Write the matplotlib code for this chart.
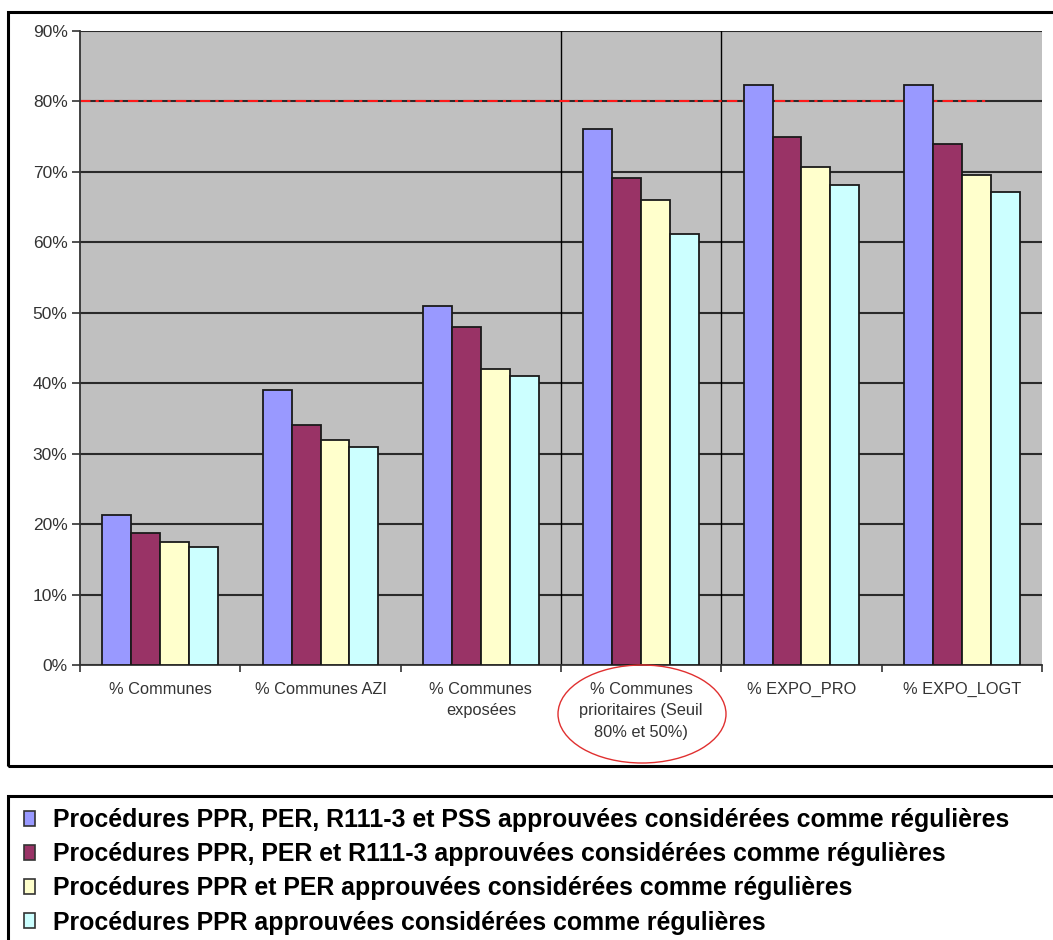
import numpy as np
import matplotlib
matplotlib.use("Agg")
import matplotlib.pyplot as plt
from matplotlib.patches import Rectangle, Ellipse, Patch

plt.rcParams['font.family'] = ['Liberation Sans', 'DejaVu Sans']

# data
categories = ["% Communes", "% Communes AZI", "% Communes\nexposées",
              "% Communes\nprioritaires (Seuil\n80% et 50%)", "% EXPO_PRO", "% EXPO_LOGT"]
ppr_per_r111_pss = [21.3, 39.0, 51.0, 76.1, 82.3, 82.3]
ppr_per_r111 = [18.7, 34.0, 48.0, 69.1, 75.0, 73.9]
ppr_per = [17.4, 32.0, 42.0, 66.0, 70.7, 69.6]
ppr = [16.8, 31.0, 41.0, 61.2, 68.2, 67.1]
series_labels = [
    "Procédures PPR, PER, R111-3 et PSS approuvées considérées comme régulières",
    "Procédures PPR, PER et R111-3 approuvées considérées comme régulières",
    "Procédures PPR et PER approuvées considérées comme régulières",
    "Procédures PPR approuvées considérées comme régulières",
]
colors = ["#9999FF", "#993366", "#FFFFCC", "#CCFFFF"]
threshold = 80

W, H = 1053, 940
fig = plt.figure(figsize=(W / 100, H / 100), dpi=100)
ax = fig.add_axes([80 / W, 1 - 665 / H, (1042 - 80) / W, (665 - 31) / H])
ax.set_facecolor("#C0C0C0")

x = np.arange(len(categories))
bw = 0.18
series = [ppr_per_r111_pss, ppr_per_r111, ppr_per, ppr]
for i, vals in enumerate(series):
    ax.bar(x + (i - 1.5) * bw, vals, bw, color=colors[i], edgecolor="#1a1a1a",
           linewidth=1.3, zorder=3)

ax.set_xlim(-0.5, len(categories) - 0.5)
ax.set_ylim(0, 90)
ax.set_yticks(range(0, 91, 10))
ax.set_yticklabels([f"{v}%" for v in range(0, 91, 10)])
ax.yaxis.grid(True, color="#2a2a2a", linewidth=1.5, zorder=1)
ax.set_axisbelow(True)

# vertical separators
for xv in [2.5, 3.5]:
    ax.axvline(xv, color="black", linewidth=1.0, zorder=1)

# 80% threshold
ax.plot([-0.5, 5.15], [threshold, threshold], color="#ff1a1a", linewidth=1.5,
        linestyle=(0, (5, 2.5, 1.5, 2.5)), zorder=2)

ax.set_xticks(x)
ax.set_xticklabels(categories, fontsize=11.8, color="#333333", linespacing=1.55)
ax.tick_params(axis="x", length=0, pad=12)
ax.set_xticks(np.arange(-0.5, len(categories)), minor=True)
ax.tick_params(axis="x", which="minor", length=5, color="#333333", width=1.2)
ax.tick_params(axis="y", length=6, color="#333333", width=1.2, labelsize=12.5,
               labelcolor="#333333", pad=3)
for s in ["top", "right"]:
    ax.spines[s].set_visible(False)
for s in ["left", "bottom"]:
    ax.spines[s].set_color("#333333")
    ax.spines[s].set_linewidth(1.3)

# red ellipse around the priority category label
fig.patches.append(Ellipse((642 / W, 1 - 714 / H), 168 / W, 98 / H,
                           transform=fig.transFigure, fill=False,
                           edgecolor="#e03030", linewidth=1.0))

# outer frames
fig.patches.append(Rectangle((8 / W, 1 - 766 / H), 1.2, (766 - 12) / H,
                             transform=fig.transFigure, fill=False,
                             edgecolor="black", linewidth=2.2))
fig.patches.append(Rectangle((8 / W, -0.2), 1.2, 0.2 + (940 - 796) / H,
                             transform=fig.transFigure, fill=False,
                             edgecolor="black", linewidth=2.2))

handles = [Patch(facecolor=c, edgecolor="#333333", linewidth=1.2) for c in colors]
fig.legend(handles, series_labels, loc="upper left",
           bbox_to_anchor=(14 / W, 1 - 798 / H), frameon=False,
           prop={"weight": "bold", "size": 17.9}, handlelength=0.45,
           handleheight=0.55, handletextpad=0.7, labelspacing=0.41,
           borderaxespad=0)

fig.savefig("out.png", dpi=100)
